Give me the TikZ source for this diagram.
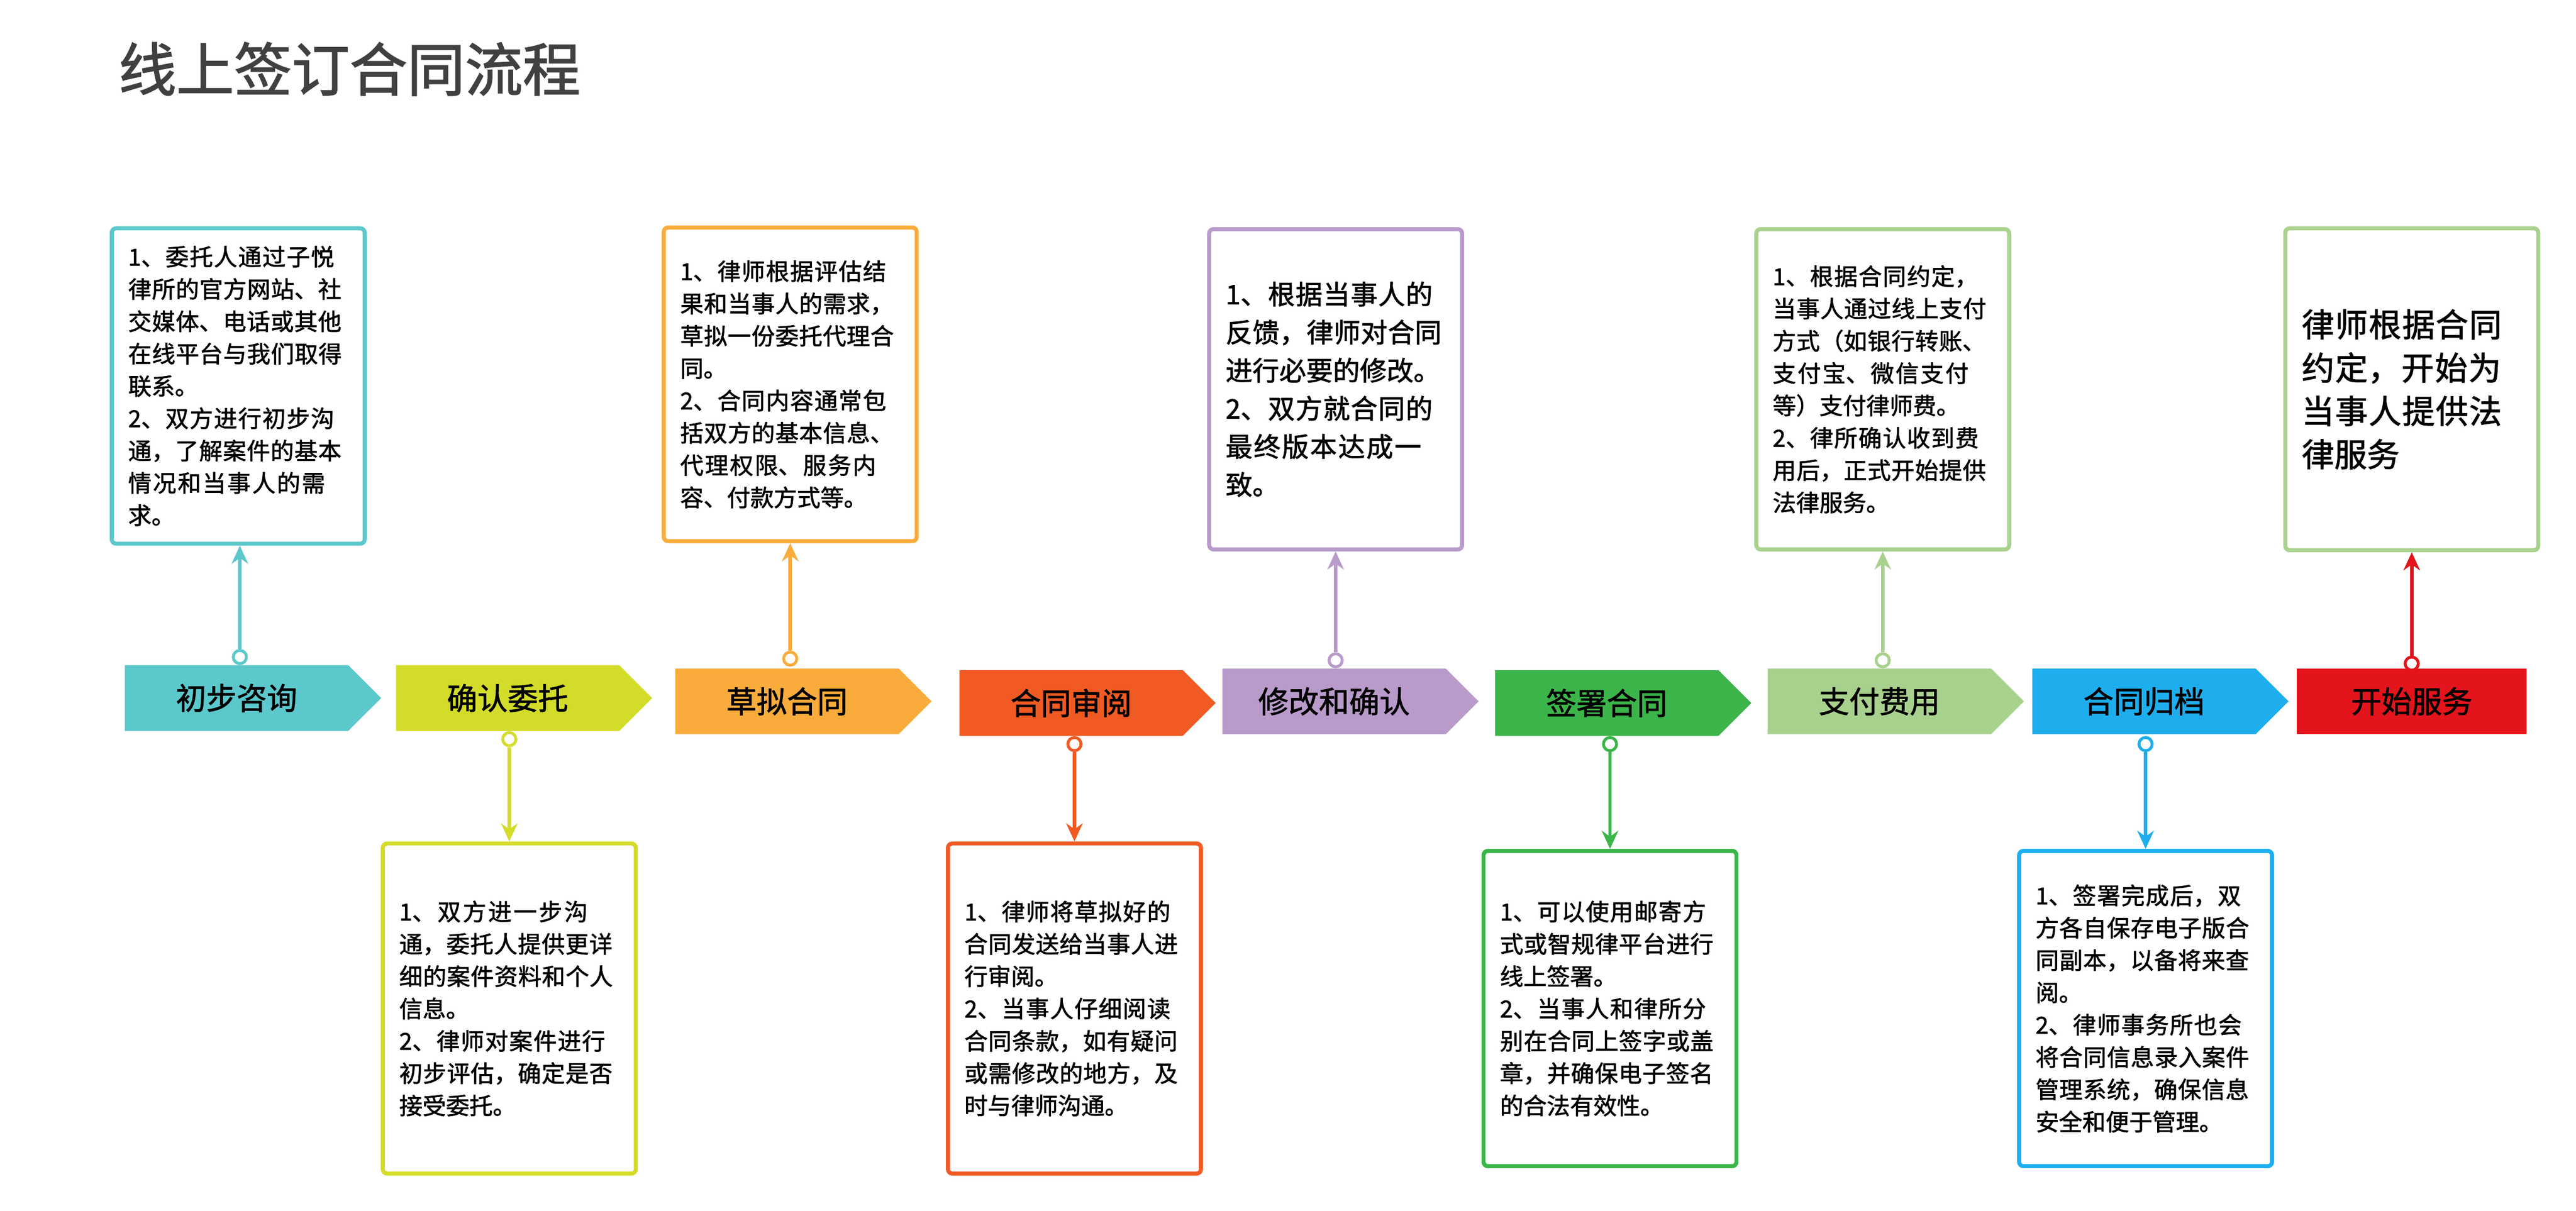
\documentclass[tikz,border=0pt]{standalone}
\usepackage{fontspec}
\setmainfont[AutoFakeBold=1.6]{Noto Sans CJK SC}
\XeTeXlinebreaklocale "zh"
\XeTeXlinebreakskip = 0pt plus 1pt
\usetikzlibrary{shapes.symbols, arrows.meta, positioning}

\definecolor{cZx}{HTML}{5BC8CC}
\definecolor{cQr}{HTML}{D4DC2A}
\definecolor{cCn}{HTML}{F9AC3C}
\definecolor{cSy}{HTML}{F15A22}
\definecolor{cXg}{HTML}{B99BCB}
\definecolor{cQs}{HTML}{3BB54A}
\definecolor{cZf}{HTML}{A9D18E}
\definecolor{cGd}{HTML}{1EAEEE}
\definecolor{cKs}{HTML}{E3141B}

\tikzset{
  step/.style={signal, signal to=east, fill=#1, minimum width=3.12cm,
    minimum height=0.8cm, inner sep=0pt, font=\fontsize{10.5}{12}\selectfont\bfseries},
  info/.style={draw=#1, line width=1.4pt, rounded corners=1.5pt, fill=white,
    minimum width=3.08cm, text width=2.68cm, align=left, inner sep=0pt,
    font=\fontsize{8.1}{11.2}\selectfont\bfseries},
  dot/.style={circle, draw=#1, fill=white, line width=1pt, inner sep=0pt, minimum size=0.16cm},
  link/.style={draw=#1, line width=1.2pt, -{Stealth[length=2.2mm,width=2mm]}}
}

\begin{document}
\begin{tikzpicture}[x=0.02cm, y=-0.02cm]
\useasboundingbox (0,0) rectangle (1568,737);

% title
\node[anchor=west, text=black!75, font=\fontsize{20}{22}\selectfont\bfseries] (title) at (66,42) {线上签订合同流程};

% process steps
\node[step=cZx] (s1) at (144,425) {初步咨询};
\node[step=cQr] (s2) at (309,425) {确认委托};
\node[step=cCn] (s3) at (479,427) {草拟合同};
\node[step=cSy] (s4) at (652,428) {合同审阅};
\node[step=cXg] (s5) at (812,427) {修改和确认};
\node[step=cQs] (s6) at (978,428) {签署合同};
\node[step=cZf] (s7) at (1144,427) {支付费用};
\node[step=cGd] (s8) at (1305,427) {合同归档};
\node[fill=cKs, minimum width=2.8cm, minimum height=0.8cm, inner sep=0pt,
  font=\fontsize{10.5}{12}\selectfont\bfseries] (s9) at (1468,427) {开始服务};

% upper boxes
\node[info=cZx, minimum height=3.84cm] (b1) at (145,235) {1、委托人通过子悦律所的官方网站、社交媒体、电话或其他在线平台与我们取得联系。\\2、双方进行初步沟通，了解案件的基本情况和当事人的需求。};
\node[info=cCn, minimum height=3.82cm] (b3) at (481,234) {1、律师根据评估结果和当事人的需求，草拟一份委托代理合同。\\2、合同内容通常包括双方的基本信息、代理权限、服务内容、付款方式等。};
\node[info=cXg, minimum height=3.9cm, font=\fontsize{9.3}{13.2}\selectfont\bfseries] (b5) at (813,237) {1、根据当事人的反馈，律师对合同进行必要的修改。\\2、双方就合同的最终版本达成一致。\\[5mm]};
\node[info=cZf, minimum height=3.9cm] (b7) at (1146,237) {1、根据合同约定，当事人通过线上支付方式（如银行转账、支付宝、微信支付等）支付律师费。\\2、律所确认收到费用后，正式开始提供法律服务。};
\node[info=cZf, minimum height=3.92cm, font=\fontsize{11.3}{15}\selectfont\bfseries] (b9) at (1468,237) {律师根据合同约定，开始为当事人提供法律服务\\[12mm]};

% lower boxes
\node[info=cQr, minimum height=4.02cm] (b2) at (310,614) {1、双方进一步沟通，委托人提供更详细的案件资料和个人信息。\\2、律师对案件进行初步评估，确定是否接受委托。};
\node[info=cSy, minimum height=4.02cm] (b4) at (654,614) {1、律师将草拟好的合同发送给当事人进行审阅。\\2、当事人仔细阅读合同条款，如有疑问或需修改的地方，及时与律师沟通。};
\node[info=cQs, minimum height=3.84cm] (b6) at (980,614) {1、可以使用邮寄方式或智规律平台进行线上签署。\\2、当事人和律所分别在合同上签字或盖章，并确保电子签名的合法有效性。};
\node[info=cGd, minimum height=3.84cm] (b8) at (1306,614) {1、签署完成后，双方各自保存电子版合同副本，以备将来查阅。\\2、律师事务所也会将合同信息录入案件管理系统，确保信息安全和便于管理。};

% connectors
\node[dot=cZx] (d1) at (146,400) {};
\node[dot=cQr] (d2) at (310,450) {};
\node[dot=cCn] (d3) at (481,401) {};
\node[dot=cSy] (d4) at (654,453) {};
\node[dot=cXg] (d5) at (813,402) {};
\node[dot=cQs] (d6) at (980,453) {};
\node[dot=cZf] (d7) at (1146,402) {};
\node[dot=cGd] (d8) at (1306,453) {};
\node[dot=cKs] (d9) at (1468,404) {};
\draw[link=cZx] (d1) -- (b1.south -| d1);
\draw[link=cQr] (d2) -- (b2.north -| d2);
\draw[link=cCn] (d3) -- (b3.south -| d3);
\draw[link=cSy] (d4) -- (b4.north -| d4);
\draw[link=cXg] (d5) -- (b5.south -| d5);
\draw[link=cQs] (d6) -- (b6.north -| d6);
\draw[link=cZf] (d7) -- (b7.south -| d7);
\draw[link=cGd] (d8) -- (b8.north -| d8);
\draw[link=cKs] (d9) -- (b9.south -| d9);
\end{tikzpicture}
\end{document}
